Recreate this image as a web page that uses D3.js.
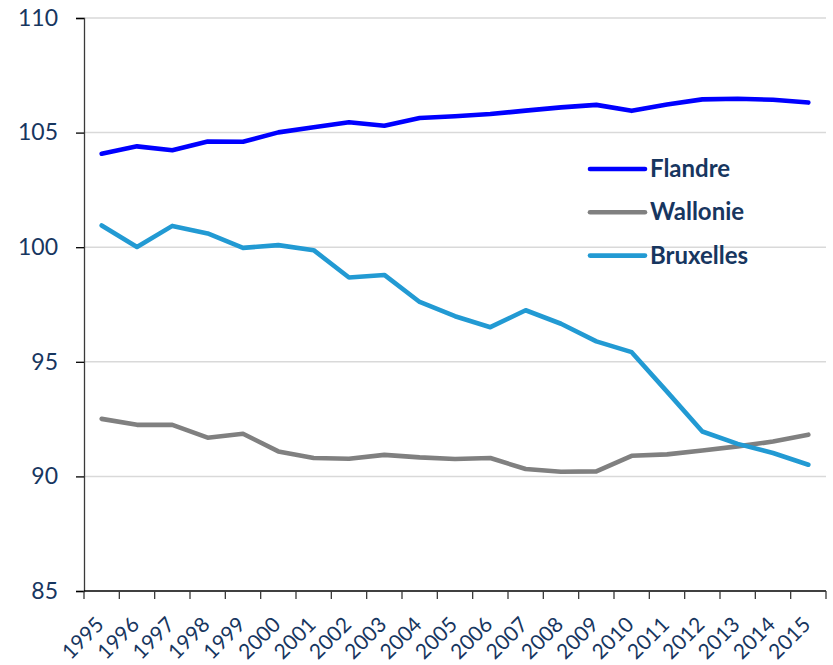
<!DOCTYPE html>
<html>
<head>
<meta charset="utf-8">
<script src="https://cdn.jsdelivr.net/npm/d3@7"></script>
<style>
  body { margin: 0; background: #fff; }
  text { font-family: Lato, "Open Sans", sans-serif; fill: #17365f; }
</style>
</head>
<body>
<div id="chart"></div>
<script>
const years = ["1995","1996","1997","1998","1999","2000","2001","2002","2003","2004","2005",
               "2006","2007","2008","2009","2010","2011","2012","2013","2014","2015"];
const flandre = [104.08,104.40,104.23,104.61,104.60,105.01,105.23,105.45,105.30,105.64,105.71,
                 105.81,105.96,106.10,106.21,105.95,106.23,106.45,106.48,106.43,106.31];
const wallonie = [92.51,92.25,92.25,91.69,91.86,91.09,90.80,90.77,90.94,90.83,90.76,
                  90.80,90.32,90.20,90.22,90.90,90.96,91.13,91.31,91.52,91.82];
const bruxelles = [100.95,100.01,100.93,100.60,99.97,100.09,99.87,98.68,98.79,97.61,96.99,
                   96.51,97.25,96.66,95.89,95.42,93.70,91.96,91.42,91.02,90.51];
const yTicks = [85, 90, 95, 100, 105, 110];

const series = [
  { name: "Flandre", values: flandre, color: "#0000ff" },
  { name: "Wallonie", values: wallonie, color: "#808080" },
  { name: "Bruxelles", values: bruxelles, color: "#229ad3" }
];

const width = 833, height = 665;
const plotLeft = 84, plotRight = 826, plotTop = 18, plotBottom = 591;

const svg = d3.select("#chart")
    .append("svg")
    .attr("width", width)
    .attr("height", height);

const x = d3.scaleBand().domain(years).range([plotLeft, plotRight]).padding(0);
const y = d3.scaleLinear().domain([85, 110]).range([plotBottom, plotTop]);
const cx = (d) => x(d) + x.bandwidth() / 2;

// gridlines
svg.append("g")
    .selectAll("line")
    .data(yTicks.filter(d => d > 85))
    .join("line")
    .attr("x1", plotLeft)
    .attr("x2", plotRight)
    .attr("y1", d => y(d))
    .attr("y2", d => y(d))
    .attr("stroke", "#d9d9d9")
    .attr("stroke-width", 1.5);

// y axis
const yAxis = svg.append("g")
    .attr("transform", `translate(${plotLeft},0)`)
    .call(d3.axisLeft(y).tickValues(yTicks).tickSize(8).tickPadding(18));
yAxis.select(".domain").attr("stroke", "#3a3a3a").attr("stroke-width", 1.3);
yAxis.selectAll(".tick line").attr("stroke", "#000").attr("stroke-width", 1.3);
yAxis.selectAll("text")
    .attr("fill", "#17365f")
    .style("font-size", "23px");

// x axis: ticks on category boundaries
const xg = svg.append("g");
xg.append("line")
    .attr("x1", plotLeft).attr("x2", plotRight)
    .attr("y1", plotBottom).attr("y2", plotBottom)
    .attr("stroke", "#000").attr("stroke-width", 1.3);
xg.selectAll(".xtick")
    .data(years.map(d => x(d)).concat([x(years[years.length - 1]) + x.bandwidth()]))
    .join("line")
    .attr("class", "xtick")
    .attr("x1", d => d).attr("x2", d => d)
    .attr("y1", plotBottom).attr("y2", plotBottom + 8)
    .attr("stroke", "#3a3a3a").attr("stroke-width", 1.3);
xg.selectAll(".xlabel")
    .data(years)
    .join("text")
    .attr("class", "xlabel")
    .attr("transform", d => `translate(${cx(d) + 3.5},${plotBottom + 35}) rotate(-45)`)
    .attr("text-anchor", "end")
    .style("font-size", "21px")
    .text(d => d);

// lines
const line = d3.line()
    .x((d, i) => cx(years[i]))
    .y(d => y(d));

svg.selectAll(".series")
    .data(series)
    .join("path")
    .attr("class", "series")
    .attr("d", d => line(d.values))
    .attr("fill", "none")
    .attr("stroke", d => d.color)
    .attr("stroke-width", 4.6)
    .attr("stroke-linejoin", "round")
    .attr("stroke-linecap", "round");

// legend
const legend = svg.append("g").attr("transform", "translate(590,169)");
const item = legend.selectAll("g")
    .data(series)
    .join("g")
    .attr("transform", (d, i) => `translate(0,${i * 43.3})`);
item.append("line")
    .attr("x1", 0).attr("x2", 55)
    .attr("stroke", d => d.color)
    .attr("stroke-width", 4.6)
    .attr("stroke-linecap", "round");
item.append("text")
    .attr("x", 60)
    .attr("y", 8)
    .style("font-size", "24px")
    .style("font-weight", "bold")
    .text(d => d.name);
</script>
</body>
</html>
